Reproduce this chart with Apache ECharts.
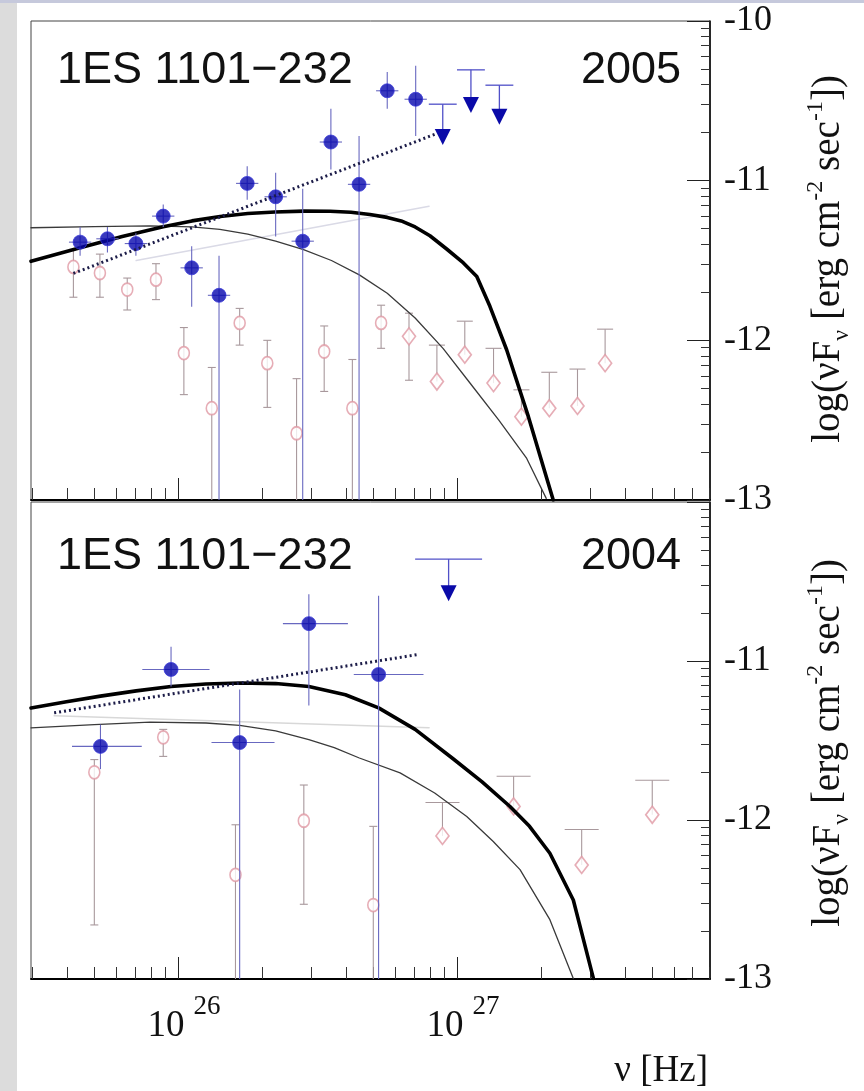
<!DOCTYPE html>
<html><head><meta charset="utf-8">
<script src="https://cdn.jsdelivr.net/npm/echarts@6/dist/echarts.min.js"></script>
<style>html,body{margin:0;padding:0;background:#fff}#c{width:864px;height:1091px}</style>
</head><body><div id="c"></div>
<script>
// ================= DATA (log10 values) =================
const xMajorTicks = [26, 27];                 // log10(nu [Hz])
const yMajorTicks = [-13, -12, -11, -10];     // log10(nuF_nu)
const sourceName = '1ES 1101\u2212232';
const yearTop = '2005';
const yearBottom = '2004';

// ---- 2005: filled blue points ----
const b05Nu = [25.649, 25.747, 25.849, 25.947, 26.049, 26.147, 26.248, 26.350, 26.447, 26.548, 26.649, 26.750, 26.852];
const b05F  = [-11.385, -11.364, -11.394, -11.222, -11.546, -11.718, -11.017, -11.101, -11.379, -10.758, -11.023, -10.437, -10.490];
const b05Hi = [-11.29, -11.29, -11.33, -11.15, -11.41, -11.47, -10.91, -10.95, -11.05, -10.55, -10.72, -10.32, -10.28];
const b05Lo = [-11.47, -11.45, -11.47, -11.29, -11.79, -13.2, -11.12, -11.35, -13.2, -10.93, -13.2, -10.55, -10.72];
const b05NuErr = 0.04;
// ---- 2005: upper limits ----
const ul05Nu  = [26.949, 27.050, 27.152];
const ul05Bar = [-10.521, -10.306, -10.402];
const ul05Tip = [-10.72, -10.52, -10.594];
const ul05NuErr = 0.05;
// ---- 2005: open pink points ----
const p05Nu = [25.625, 25.720, 25.818, 25.921, 26.021, 26.121, 26.221, 26.320, 26.425, 26.524, 26.625, 26.728, 26.828, 26.928, 27.028, 27.131, 27.231, 27.331, 27.432, 27.531];
const p05F  = [-11.540, -11.578, -11.682, -11.620, -12.080, -12.425, -11.891, -12.143, -12.582, -12.070, -12.425, -11.891, -11.975, -12.258, -12.090, -12.268, -12.478, -12.425, -12.411, -12.143];
const p05Hi = [-11.43, -11.46, -11.61, -11.52, -11.92, -12.17, -11.80, -12.00, -12.24, -11.91, -12.12, -11.78, -11.83, -12.03, -11.88, -12.05, -12.31, -12.20, -12.18, -11.93];
const p05Lo = [-11.73, -11.73, -11.81, -11.745, -12.34, -13.2, -12.03, -12.42, -13.2, -12.32, -13.2, -12.05, -12.25, -12.258, -12.090, -12.268, -12.478, -12.425, -12.411, -12.143];
// ---- 2005: model curves ----
const thick05Nu = [25.473, 25.649, 25.800, 25.947, 26.050, 26.151, 26.250, 26.348, 26.450, 26.545, 26.620, 26.688, 26.750, 26.800, 26.850, 26.903, 26.963, 27.023, 27.071, 27.118, 27.178, 27.256, 27.345];
const thick05F  = [-11.505, -11.420, -11.350, -11.288, -11.252, -11.224, -11.206, -11.196, -11.191, -11.192, -11.198, -11.212, -11.230, -11.252, -11.290, -11.345, -11.428, -11.515, -11.600, -11.787, -12.059, -12.478, -13.000];
const thin05Nu = [25.473, 25.700, 25.900, 26.050, 26.150, 26.250, 26.350, 26.450, 26.550, 26.650, 26.750, 26.850, 26.950, 27.050, 27.150, 27.250, 27.320];
const thin05F  = [-11.295, -11.288, -11.283, -11.290, -11.305, -11.335, -11.378, -11.432, -11.500, -11.590, -11.705, -11.860, -12.050, -12.275, -12.500, -12.740, -12.990];
const fit05Nu = [25.625, 26.920];
const fit05F  = [-11.581, -10.710];
const faint05Nu = [25.850, 26.900];
const faint05F  = [-11.500, -11.160];

// ---- 2004: filled blue points ----
const b04Nu = [25.722, 25.975, 26.221, 26.469, 26.719];
const b04F  = [-11.537, -11.053, -11.513, -10.765, -11.085];
const b04Hi = [-11.40, -10.91, -11.18, -10.58, -10.59];
const b04Lo = [-11.68, -11.16, -13.2, -11.28, -13.2];
const b04NuLo = [25.620, 25.872, 26.120, 26.376, 26.630];
const b04NuHi = [25.870, 26.113, 26.346, 26.609, 26.880];
// ---- 2004: upper limit ----
const ul04Nu  = [26.970];
const ul04Bar = [-10.359];
const ul04Tip = [-10.567];
const ul04NuErr = 0.12;
// ---- 2004: open pink points ----
const p04Nu = [25.700, 25.947, 26.206, 26.451, 26.700, 26.948, 27.203, 27.447, 27.700];
const p04F  = [-11.700, -11.480, -12.345, -12.005, -12.535, -12.100, -11.915, -12.283, -11.967];
const p04Hi = [-11.62, -11.43, -12.03, -11.78, -12.04, -11.89, -11.725, -12.06, -11.75];
const p04Lo = [-12.66, -11.60, -13.2, -12.53, -13.2, -12.100, -11.915, -12.283, -11.967];
// ---- 2004: model curves ----
const thick04Nu = [25.473, 25.600, 25.722, 25.850, 25.975, 26.100, 26.221, 26.350, 26.469, 26.600, 26.719, 26.850, 26.986, 27.090, 27.190, 27.260, 27.333, 27.417, 27.489];
const thick04F  = [-11.295, -11.256, -11.221, -11.188, -11.160, -11.145, -11.138, -11.142, -11.160, -11.212, -11.295, -11.430, -11.615, -11.760, -11.915, -12.040, -12.209, -12.503, -12.996];
const thin04Nu = [25.473, 25.700, 25.900, 26.100, 26.221, 26.350, 26.469, 26.560, 26.650, 26.796, 26.920, 27.035, 27.130, 27.226, 27.333, 27.417];
const thin04F  = [-11.420, -11.400, -11.385, -11.390, -11.405, -11.440, -11.494, -11.545, -11.610, -11.704, -11.830, -11.978, -12.135, -12.312, -12.627, -12.997];
const fit04Nu = [25.556, 26.865];
const fit04F  = [-11.326, -10.958];
const faint04Nu = [25.556, 26.900];
const faint04F  = [-11.345, -11.420];

// ================= CHART =================
const X_MIN = 25.473, X_MAX = 27.907;
const xMinorTicks = [];
for (let n = 25; n <= 27; n++) for (let k = 2; k <= 9; k++) {
  const v = n + Math.log10(k); if (v > X_MIN && v < X_MAX) xMinorTicks.push(v);
}
const yMinorTicks = [];
for (let n = -13; n <= -11; n++) for (let k = 2; k <= 9; k++) yMinorTicks.push(n + Math.log10(k));

const SERIF = 'Liberation Serif';
const SANS = 'Liberation Sans';
const zip = (a, b) => a.map((v, i) => [v, b[i]]);

const grids = [
  { left: 31, width: 679, top: 21, height: 479, show: true, borderColor: '#444', borderWidth: 1 },
  { left: 31, width: 679, top: 502, height: 477, show: true, borderColor: '#444', borderWidth: 1 }
];

const xAxes = [], yAxes = [];
[0, 1].forEach(g => {
  xAxes.push({
    type: 'value', gridIndex: g, min: X_MIN, max: X_MAX, position: 'bottom',
    axisLine: { show: true, onZero: false, lineStyle: { color: '#000', width: 2 } },
    axisTick: { show: true, inside: true, length: 22, customValues: xMajorTicks, lineStyle: { color: '#222', width: 1 } },
    axisLabel: {
      show: g === 1, customValues: xMajorTicks, margin: 14,
      formatter: v => '{b|10}{s|' + Math.round(v) + '}',
      rich: {
        b: { fontFamily: SERIF, fontSize: 37, color: '#111', verticalAlign: 'bottom', lineHeight: 52, padding: [0, 0, 0, 12] },
        s: { fontFamily: SERIF, fontSize: 27, color: '#111', verticalAlign: 'top', lineHeight: 52, padding: [0, 0, 0, 9] }
      }
    },
    splitLine: { show: false }
  });
  xAxes.push({
    type: 'value', gridIndex: g, min: X_MIN, max: X_MAX, position: 'bottom',
    axisLine: { show: false },
    axisTick: { show: true, inside: true, length: 12, customValues: xMinorTicks, lineStyle: { color: '#333', width: 1 } },
    axisLabel: { show: false }, splitLine: { show: false }
  });
  yAxes.push({
    type: 'value', gridIndex: g, min: -13, max: -10, position: 'right',
    axisLine: { show: true, lineStyle: { color: '#000', width: 1.5 } },
    axisTick: { show: true, inside: true, length: 23, customValues: yMajorTicks, lineStyle: { color: '#222', width: 1 } },
    axisLabel: {
      show: true, customValues: g === 0 ? yMajorTicks : yMajorTicks.filter(v => v < -10),
      fontFamily: SERIF, fontSize: 36, color: '#111', margin: 14,
      formatter: v => String(Math.round(v))
    },
    splitLine: { show: false }
  });
  yAxes.push({
    type: 'value', gridIndex: g, min: -13, max: -10, position: 'right',
    axisLine: { show: false },
    axisTick: { show: true, inside: true, length: 9, customValues: yMinorTicks, lineStyle: { color: '#333', width: 1 } },
    axisLabel: { show: false }, splitLine: { show: false }
  });
});

function lineSeries(g, nu, f, style, z) {
  return {
    type: 'line', xAxisIndex: 2 * g, yAxisIndex: 2 * g, data: zip(nu, f),
    symbol: 'none', showSymbol: false, clip: true, smooth: false,
    lineStyle: Object.assign({ join: 'round', cap: 'round' }, style), z: z, silent: true, animation: false
  };
}

// vertical error bars (+ optional horizontal errors)
function errSeries(g, nu, hi, lo, opts) {
  const data = nu.map((v, i) => [v, hi[i], lo[i],
    opts.nuLo ? opts.nuLo[i] : (opts.nuErr ? v - opts.nuErr : v),
    opts.nuHi ? opts.nuHi[i] : (opts.nuErr ? v + opts.nuErr : v),
    opts.f[i]]);
  return {
    type: 'custom', xAxisIndex: 2 * g, yAxisIndex: 2 * g, clip: true, z: opts.z, silent: true, animation: false,
    data: data,
    renderItem: function (params, api) {
      const x = api.value(0), yh = api.value(1), yl = api.value(2), xl = api.value(3), xh = api.value(4), yc = api.value(5);
      const pH = api.coord([x, yh]), pL = api.coord([x, yl]);
      const st = { stroke: opts.color, lineWidth: opts.width };
      const ch = [{ type: 'line', shape: { x1: pH[0], y1: pH[1], x2: pL[0], y2: pL[1] }, style: st }];
      const upperOnly = Math.abs(yl - yc) < 1e-6;
      const cap = upperOnly ? opts.wideCap : opts.cap;
      if (cap > 0) {
        ch.push({ type: 'line', shape: { x1: pH[0] - cap, y1: pH[1], x2: pH[0] + cap, y2: pH[1] }, style: st });
        if (!upperOnly && yl > -13) ch.push({ type: 'line', shape: { x1: pL[0] - cap, y1: pL[1], x2: pL[0] + cap, y2: pL[1] }, style: st });
      }
      if (xh > xl) {
        const a = api.coord([xl, yc]), b = api.coord([xh, yc]);
        ch.push({ type: 'line', shape: { x1: a[0], y1: a[1], x2: b[0], y2: b[1] }, style: st });
      }
      return { type: 'group', children: ch };
    }
  };
}

function limitSeries(g, nu, bar, tip, nuErr, z) {
  return {
    type: 'custom', xAxisIndex: 2 * g, yAxisIndex: 2 * g, clip: true, z: z, silent: true, animation: false,
    data: nu.map((v, i) => [v, bar[i], tip[i]]),
    renderItem: function (params, api) {
      const x = api.value(0);
      const pB = api.coord([x, api.value(1)]), pT = api.coord([x, api.value(2)]);
      const a = api.coord([x - nuErr, api.value(1)]), b = api.coord([x + nuErr, api.value(1)]);
      const st = { stroke: '#5050c8', lineWidth: 1.3 };
      return {
        type: 'group', children: [
          { type: 'line', shape: { x1: a[0], y1: a[1], x2: b[0], y2: b[1] }, style: st },
          { type: 'line', shape: { x1: pB[0], y1: pB[1], x2: pT[0], y2: pT[1] - 6 }, style: st },
          { type: 'polygon', shape: { points: [[pT[0] - 8, pT[1] - 7], [pT[0] + 8, pT[1] - 7], [pT[0], pT[1] + 9]] }, style: { fill: '#0a0aa8' } }
        ]
      };
    }
  };
}

function pinkScatter(g, nu, f, diamondFrom, z) {
  return {
    type: 'scatter', xAxisIndex: 2 * g, yAxisIndex: 2 * g, data: zip(nu, f), z: z, silent: true, animation: false,
    symbol: (v, p) => p.dataIndex >= diamondFrom ? 'diamond' : 'circle',
    symbolSize: (v, p) => p.dataIndex >= diamondFrom ? [13, 17] : [11, 13],
    itemStyle: { color: '#ffffff', borderColor: '#e098a4', borderWidth: 1.7 }
  };
}
function blueScatter(g, nu, f, z) {
  return {
    type: 'scatter', xAxisIndex: 2 * g, yAxisIndex: 2 * g, data: zip(nu, f), z: z, silent: true, animation: false,
    symbol: 'circle', symbolSize: 14,
    itemStyle: { color: '#0808ac', borderColor: '#3a3ad8', borderWidth: 1 }
  };
}

const series = [
  // ---- top panel (2005) ----
  lineSeries(0, faint05Nu, faint05F, { color: '#dadae6', width: 1.5 }, 1),
  errSeries(0, p05Nu, p05Hi, p05Lo, { f: p05F, color: '#a8989c', width: 1.1, cap: 4, wideCap: 8, z: 2 }),
  pinkScatter(0, p05Nu, p05F, 12, 3),
  lineSeries(0, thin05Nu, thin05F, { color: '#3a3a3a', width: 1.3 }, 4),
  lineSeries(0, thick05Nu, thick05F, { color: '#000', width: 3.6 }, 5),
  errSeries(0, b05Nu, b05Hi, b05Lo, { f: b05F, nuErr: b05NuErr, color: '#6868c0', width: 1.1, cap: 0, wideCap: 0, z: 6 }),
  limitSeries(0, ul05Nu, ul05Bar, ul05Tip, ul05NuErr, 6),
  blueScatter(0, b05Nu, b05F, 7),
  lineSeries(0, fit05Nu, fit05F, { color: '#1c1c48', width: 3, type: [2, 3], cap: 'butt' }, 8),
  // ---- bottom panel (2004) ----
  lineSeries(1, faint04Nu, faint04F, { color: '#d8d8d8', width: 1.5 }, 1),
  errSeries(1, p04Nu, p04Hi, p04Lo, { f: p04F, color: '#a8989c', width: 1.1, cap: 4, wideCap: 17, z: 2 }),
  pinkScatter(1, p04Nu, p04F, 5, 3),
  lineSeries(1, thin04Nu, thin04F, { color: '#3a3a3a', width: 1.3 }, 4),
  lineSeries(1, thick04Nu, thick04F, { color: '#000', width: 3.6 }, 5),
  errSeries(1, b04Nu, b04Hi, b04Lo, { f: b04F, nuLo: b04NuLo, nuHi: b04NuHi, color: '#6868c0', width: 1.1, cap: 0, wideCap: 0, z: 6 }),
  limitSeries(1, ul04Nu, ul04Bar, ul04Tip, ul04NuErr, 6),
  blueScatter(1, b04Nu, b04F, 7),
  lineSeries(1, fit04Nu, fit04F, { color: '#1c1c48', width: 3, type: [2, 3], cap: 'butt' }, 8)
];

const yTitle = '{n|log(\u03BDF}{sub|\u03BD}{n| [erg cm}{sup|-2}{n| sec}{sup|-1}{n|])}';
const yTitleRich = {
  n: { fontFamily: SERIF, fontSize: 39, fill: '#111', lineHeight: 50, verticalAlign: 'middle' },
  sub: { fontFamily: SERIF, fontSize: 24, fill: '#111', lineHeight: 50, verticalAlign: 'bottom' },
  sup: { fontFamily: SERIF, fontSize: 24, fill: '#111', lineHeight: 50, verticalAlign: 'top' }
};

const graphic = [
  { type: 'rect', shape: { x: 0, y: 0, width: 17, height: 1091 }, style: { fill: '#dcdcdc' }, silent: true },
  { type: 'rect', shape: { x: 0, y: 0, width: 864, height: 3 }, style: { fill: '#c6c9dc' }, silent: true },
  { type: 'text', x: 57, y: 71, style: { text: sourceName, fontFamily: SANS, fontSize: 45, fill: '#111', align: 'left', verticalAlign: 'middle' } },
  { type: 'text', x: 681, y: 71, style: { text: yearTop, fontFamily: SANS, fontSize: 45, fill: '#111', align: 'right', verticalAlign: 'middle' } },
  { type: 'text', x: 57, y: 557, style: { text: sourceName, fontFamily: SANS, fontSize: 45, fill: '#111', align: 'left', verticalAlign: 'middle' } },
  { type: 'text', x: 681, y: 557, style: { text: yearBottom, fontFamily: SANS, fontSize: 45, fill: '#111', align: 'right', verticalAlign: 'middle' } },
  { type: 'text', x: 829, y: 259, rotation: Math.PI / 2, style: { text: yTitle, rich: yTitleRich, align: 'center', verticalAlign: 'middle' } },
  { type: 'text', x: 829, y: 743, rotation: Math.PI / 2, style: { text: yTitle, rich: yTitleRich, align: 'center', verticalAlign: 'middle' } },
  { type: 'text', x: 708, y: 1071, style: { text: '\u03BD [Hz]', fontFamily: SERIF, fontSize: 37, fill: '#111', align: 'right', verticalAlign: 'middle' } }
];

const chart = echarts.init(document.getElementById('c'), null, { renderer: 'canvas' });
chart.setOption({
  backgroundColor: '#ffffff',
  animation: false,
  grid: grids,
  xAxis: xAxes,
  yAxis: yAxes,
  series: series,
  graphic: graphic
});
</script>
</body></html>
